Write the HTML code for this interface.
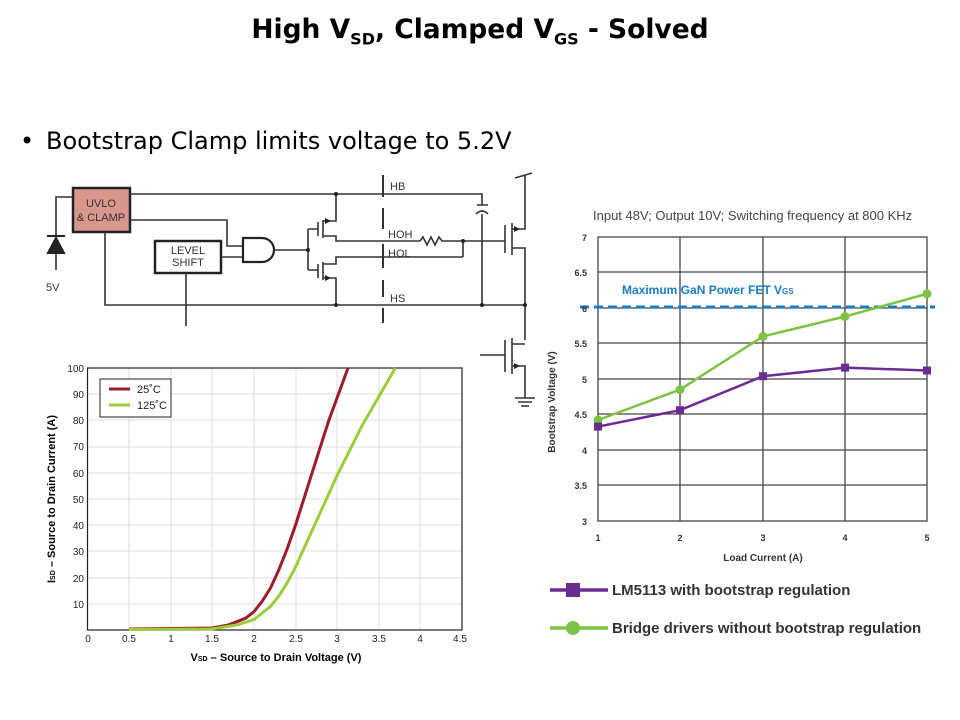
<!DOCTYPE html>
<html><head><meta charset="utf-8"><style>
body{margin:0;width:960px;height:720px;background:#fff;overflow:hidden;font-family:"Liberation Sans",sans-serif;position:relative}
.t{position:absolute;left:0;width:960px;top:14px;text-align:center;font-weight:bold;font-size:26.5px;font-family:"DejaVu Sans",sans-serif}
.t sub{font-size:16px}
.b{position:absolute;top:127px;font-size:24px;font-family:"DejaVu Sans",sans-serif;white-space:nowrap}
svg{position:absolute;left:0;top:0}
</style></head><body>
<div class="t">High V<sub>SD</sub>, Clamped V<sub>GS</sub> - Solved</div>
<div class="b" style="left:20px">•</div>
<div class="b" style="left:46px">Bootstrap Clamp limits voltage to 5.2V</div>
<svg width="960" height="720" viewBox="0 0 960 720" font-family="Liberation Sans, sans-serif">
<g stroke="#333" stroke-width="1.6" fill="none">
<rect x="73" y="188" width="57" height="44" fill="#d9968d" stroke="#222" stroke-width="2.5"/>
<rect x="155" y="241" width="66" height="32" fill="#fff" stroke="#222" stroke-width="2.5"/>
<path d="M73 197H56V270M130 194H482V205M130 220H227V246H243M221 257H243M105 232V305H525M186 273V326"/>
<path d="M243 238H262A12 12 0 0 1 262 262H243Z" stroke="#222" stroke-width="2.2" fill="#fff"/>
<path d="M274 250H308M308 229V270M308 229H318M308 270H318"/>
<path d="M318 222V236M323 220V238M336 194V221H323M323 236H336V241H420M318 264V278M323 262V280M323 264H336V257H463M323 278H336V305"/>
<path d="M420 241l3-4 4 8 4-8 4 8 4-8 3 4H463V257M463 241H505"/>
<path d="M505 225V253M512 223V255M512 229H525V175M512 248H525V305V340M515 178L532 173"/>
<path d="M477 205H488M476 214Q482 208 488 214M482 214V305"/>
<path d="M480 355H505M505 340V372M512 338V374M512 344H525M512 366H525V398M515 398H535M518 402H532M521 406H529"/>
<path d="M383 175V197M383 208V229M383 244V268M383 280V297M383 308V323" stroke-width="2"/>
</g>
<path d="M48 253L56 238L64 253ZM47 236H65" fill="#222" stroke="#222" stroke-width="2"/>
<path d="M331 221l-6-3v6ZM331 278l-6-3v6ZM520 229l-6-3v6ZM520 366l-6-3v6Z" fill="#222"/>
<g fill="#222">
<circle cx="336" cy="194" r="2"/><circle cx="308" cy="250" r="2"/><circle cx="463" cy="241" r="2"/><circle cx="336" cy="305" r="2"/><circle cx="482" cy="305" r="2"/><circle cx="525" cy="305" r="2"/></g>
<g font-size="11" fill="#333">
<text x="101" y="207" text-anchor="middle">UVLO</text><text x="101" y="221" text-anchor="middle">&amp; CLAMP</text>
<text x="188" y="254" text-anchor="middle">LEVEL</text><text x="188" y="266" text-anchor="middle">SHIFT</text>
<text x="46" y="291">5V</text><text x="390" y="190">HB</text><text x="388" y="238">HOH</text><text x="388" y="257">HOL</text><text x="390" y="302">HS</text>
</g>
<!-- left chart -->
<g stroke="#ddd" stroke-width="1">
<path d="M129 368V630M171 368V630M212 368V630M254 368V630M296 368V630M337 368V630M379 368V630M420 368V630M87 604H462M87 578H462M87 551H462M87 525H462M87 499H462M87 473H462M87 447H462M87 420H462M87 394H462"/>
</g>
<rect x="87.5" y="368" width="374.5" height="262" fill="none" stroke="#222" stroke-width="1.2"/>
<path d="M129 629L212 628L229 624.8L245.6 618.2L254 611.7L262.2 601.2L270.5 588L278.9 569.7L287.2 548.8L295.5 525.2L312.1 472.8L328.8 420.4L348 368" fill="none" stroke="#9b1c2a" stroke-width="3" stroke-linejoin="round"/>
<path d="M129 629.5L212 629L237.3 624.8L254 619.5L270.5 606.4L278.9 596L287.2 582.8L295.5 567.1L303.8 548.8L320.5 512.1L337.1 475.4L362.1 425.6L395.3 368" fill="none" stroke="#9ccc3a" stroke-width="3" stroke-linejoin="round"/>
<rect x="100" y="379" width="71" height="38" fill="#fff" stroke="#222"/>
<path d="M109 389H130" stroke="#9b1c2a" stroke-width="3"/><path d="M109 405H130" stroke="#9ccc3a" stroke-width="3"/>
<g font-size="11" fill="#222"><text x="137" y="393">25˚C</text><text x="137" y="409">125˚C</text></g>
<g font-size="10" fill="#222" text-anchor="end"><text x="84" y="372">100</text><text x="84" y="398">90</text><text x="84" y="424">80</text><text x="84" y="450">70</text><text x="84" y="477">60</text><text x="84" y="503">50</text><text x="84" y="529">40</text><text x="84" y="555">30</text><text x="84" y="582">20</text><text x="84" y="608">10</text></g>
<g font-size="10" fill="#222" text-anchor="middle"><text x="88" y="642">0</text><text x="129" y="642">0.5</text><text x="171" y="642">1</text><text x="212" y="642">1.5</text><text x="254" y="642">2</text><text x="296" y="642">2.5</text><text x="337" y="642">3</text><text x="379" y="642">3.5</text><text x="420" y="642">4</text><text x="460" y="642">4.5</text></g>
<text x="276" y="661" font-size="11" font-weight="bold" text-anchor="middle">V<tspan font-size="7">SD</tspan> – Source to Drain Voltage (V)</text>
<text transform="translate(55 499) rotate(-90)" font-size="11" font-weight="bold" text-anchor="middle">I<tspan font-size="7">SD</tspan> – Source to Drain Current (A)</text>
<!-- right chart -->
<text x="593" y="220" font-size="13" fill="#444">Input 48V; Output 10V; Switching frequency at 800 KHz</text>
<g stroke="#444" stroke-width="1.3" fill="none">
<rect x="598" y="237" width="329" height="284"/>
<path d="M680 237V521M763 237V521M845 237V521M598 272H927M598 308H927M598 343H927M598 379H927M598 414H927M598 450H927M598 485H927"/>
</g>
<path d="M580 307H935" stroke="#1a7cc4" stroke-width="3" stroke-dasharray="9 5"/>
<text x="622" y="294" font-size="12" font-weight="bold" fill="#1a7cc4">Maximum GaN Power FET V<tspan font-size="8">GS</tspan></text>
<path d="M598 420L680 389.6L763 336.4L845 316.5L927 293.8" fill="none" stroke="#7dc242" stroke-width="2.5"/>
<g fill="#7dc242"><circle cx="598" cy="420" r="4.5"/><circle cx="680" cy="389.6" r="4.5"/><circle cx="763" cy="336.4" r="4.5"/><circle cx="845" cy="316.5" r="4.5"/><circle cx="927" cy="293.8" r="4.5"/></g>
<path d="M598 426.6L680 410.2L763 376.2L845 367.6L927 370.5" fill="none" stroke="#6a2c91" stroke-width="2.5"/>
<g fill="#6a2c91"><rect x="594" y="422.6" width="8" height="8"/><rect x="676" y="406.2" width="8" height="8"/><rect x="759" y="372.2" width="8" height="8"/><rect x="841" y="363.6" width="8" height="8"/><rect x="923" y="366.5" width="8" height="8"/></g>
<g font-size="9" font-weight="bold" fill="#333" text-anchor="end"><text x="587" y="241">7</text><text x="587" y="276">6.5</text><text x="587" y="312">6</text><text x="587" y="347">5.5</text><text x="587" y="383">5</text><text x="587" y="418">4.5</text><text x="587" y="454">4</text><text x="587" y="489">3.5</text><text x="587" y="525">3</text></g>
<g font-size="9" font-weight="bold" fill="#333" text-anchor="middle"><text x="598" y="541">1</text><text x="680" y="541">2</text><text x="763" y="541">3</text><text x="845" y="541">4</text><text x="927" y="541">5</text></g>
<text x="763" y="561" font-size="10" font-weight="bold" fill="#333" text-anchor="middle">Load Current (A)</text>
<text transform="translate(555 402) rotate(-90)" font-size="10" font-weight="bold" fill="#333" text-anchor="middle">Bootstrap Voltage (V)</text>
<path d="M550 590H608" stroke="#6a2c91" stroke-width="3.5"/><rect x="566" y="583" width="14" height="14" fill="#6a2c91"/>
<path d="M550 628H608" stroke="#7dc242" stroke-width="3.5"/><circle cx="573" cy="628" r="7" fill="#7dc242"/>
<g font-size="15" font-weight="bold" fill="#333"><text x="612" y="595">LM5113 with bootstrap regulation</text><text x="612" y="633">Bridge drivers without bootstrap regulation</text></g>
</svg>
</body></html>
